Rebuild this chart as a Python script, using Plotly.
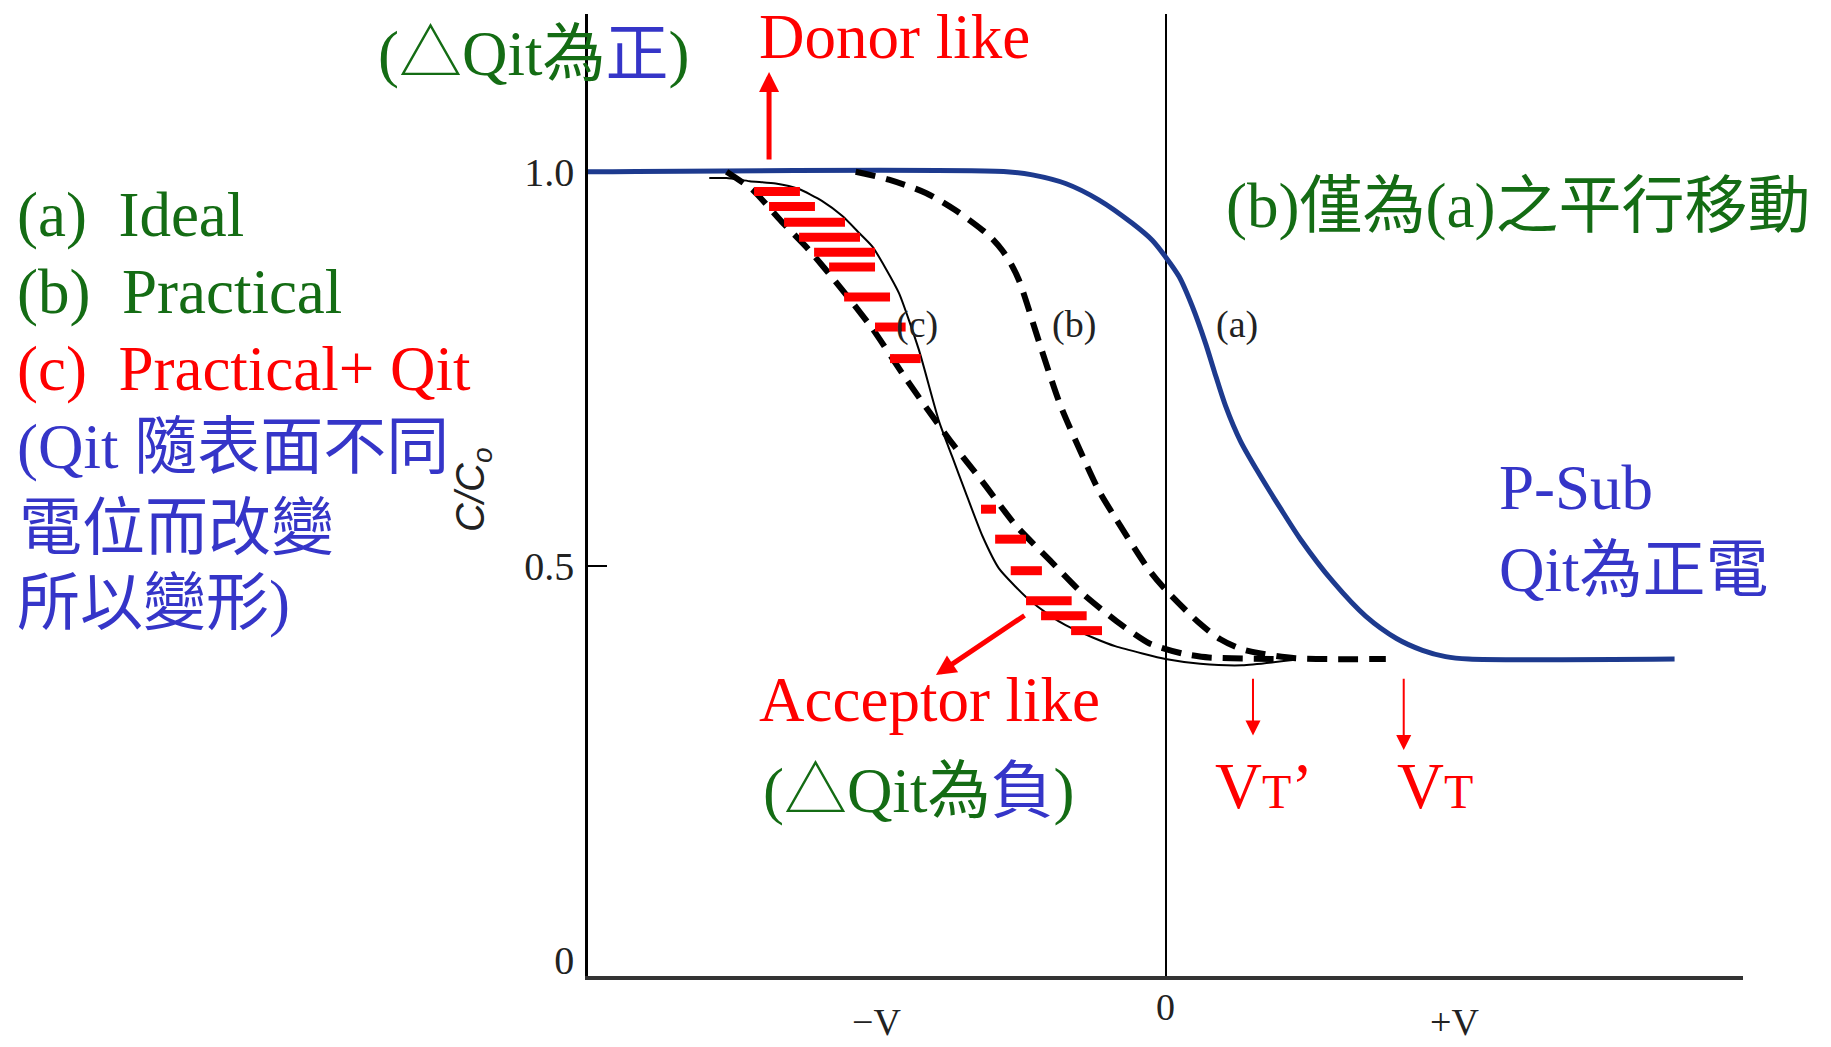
import plotly.graph_objects as go

# ---- C-V curves: gate voltage in units of V, capacitance as C/Co ----
ideal_v = [-2.0, -0.55, -0.461, -0.346, -0.23, -0.115, -0.046, 0.0, 0.047, 0.093, 0.139,
           0.168, 0.208, 0.26, 0.319, 0.40, 0.469, 0.58, 0.694, 0.80, 0.89, 0.97, 1.05, 1.763]
ideal_c = [1.0, 1.0, 0.996, 0.985, 0.964, 0.9345, 0.913, 0.892, 0.867, 0.829, 0.782,
           0.748, 0.703, 0.658, 0.620, 0.572, 0.533, 0.480, 0.436, 0.408, 0.393, 0.385,
           0.382, 0.382]

practical_v = [-1.073, -0.958, -0.83, -0.727, -0.634, -0.60, -0.565, -0.535, -0.507, -0.48,
               -0.45, -0.403, -0.363, -0.288, -0.23, -0.172, -0.057, 0.0, 0.116, 0.19,
               0.26, 0.33, 0.45, 0.763]
practical_c = [1.0, 0.99, 0.973, 0.951, 0.926, 0.915, 0.900, 0.883, 0.862, 0.833,
               0.798, 0.745, 0.703, 0.640, 0.595, 0.560, 0.495, 0.470, 0.428, 0.407,
               0.395, 0.389, 0.383, 0.382]

stretched_v = [-1.52, -1.43, -1.33, -1.235, -1.13, -1.015, -0.90, -0.75, -0.634, -0.52,
               -0.40, -0.29, -0.17, -0.057, 0.058, 0.15, 0.40]
stretched_c = [1.0, 0.977, 0.937, 0.901, 0.855, 0.801, 0.738, 0.661, 0.607, 0.552,
               0.507, 0.466, 0.43, 0.402, 0.389, 0.384, 0.382]

qit_v = [-1.58, -1.52, -1.44, -1.35, -1.27, -1.19, -1.12, -1.06, -1.015, -0.97, -0.923,
         -0.854, -0.784, -0.738, -0.692, -0.634, -0.577, -0.52, -0.484, -0.40, -0.346,
         -0.25, -0.172, -0.08, 0.0, 0.12, 0.265, 0.448]
qit_c = [0.992, 0.992, 0.988, 0.985, 0.978, 0.963, 0.944, 0.922, 0.905, 0.878, 0.846,
         0.774, 0.683, 0.638, 0.593, 0.538, 0.497, 0.474, 0.461, 0.437, 0.425,
         0.409, 0.398, 0.389, 0.382, 0.376, 0.374, 0.381]

# interface-trap hatching between the curves: start V, end V, C/Co level
trap_v0 = [-1.425, -1.373, -1.321, -1.269, -1.217, -1.165, -1.113, -1.006, -0.954,
           -0.639, -0.590, -0.536, -0.483, -0.431, -0.327]
trap_v1 = [-1.266, -1.214, -1.110, -1.058, -1.006, -1.006, -0.954, -0.900, -0.848,
           -0.587, -0.483, -0.428, -0.325, -0.273, -0.220]
trap_c = [0.975, 0.956, 0.936, 0.917, 0.898, 0.879, 0.841, 0.803, 0.763,
          0.572, 0.534, 0.494, 0.456, 0.437, 0.418]

y_tick_vals = [0, 0.5, 1.0]
y_tick_text = ["0", "0.5", "1.0"]
x_label_vals = [-1, 0, 1]
x_label_text = ["\u2212V", "0", "+V"]
curve_labels = ["(c)", "(b)", "(a)"]
curve_label_v = [-0.861, -0.317, 0.248]

SERIF = "Liberation Serif, Noto Sans CJK TC, serif"
GREEN = "#146c14"
RED = "#ff0000"
BLUE_TXT = "#3535c8"
NAVY = "#1d3a8e"
BIG = 63
DASH = "20px,11px"

fig = go.Figure()

fig.add_trace(go.Scatter(x=ideal_v, y=ideal_c, mode="lines",
                         line=dict(color=NAVY, width=5, shape="spline", smoothing=0.8)))
fig.add_trace(go.Scatter(x=practical_v, y=practical_c, mode="lines",
                         line=dict(color="black", width=6, dash=DASH,
                                   shape="spline", smoothing=0.8)))
fig.add_trace(go.Scatter(x=stretched_v, y=stretched_c, mode="lines",
                         line=dict(color="black", width=6, dash=DASH,
                                   shape="spline", smoothing=0.6)))
fig.add_trace(go.Scatter(x=qit_v, y=qit_c, mode="lines",
                         line=dict(color="black", width=2, shape="spline", smoothing=0.6)))

bar_x, bar_y = [], []
for v0, v1, c in zip(trap_v0, trap_v1, trap_c):
    bar_x += [v0, v1, None]
    bar_y += [c, c, None]
fig.add_trace(go.Scatter(x=bar_x, y=bar_y, mode="lines",
                         line=dict(color=RED, width=9)))

annotations = []


def text(t, x, y, size=BIG, color="black", xref="paper", yref="paper",
         xanchor="left", family=SERIF, angle=0):
    annotations.append(dict(text=t, x=x, y=y, xref=xref, yref=yref,
                            xanchor=xanchor, yanchor="middle", showarrow=False,
                            textangle=angle,
                            font=dict(family=family, size=size, color=color)))


def arrow(x, y, ax, ay, width, size):
    annotations.append(dict(text="", x=x, y=y, ax=ax, ay=ay, xref="x", yref="y",
                            axref="x", ayref="y", showarrow=True, arrowhead=2,
                            arrowsize=size, arrowwidth=width, arrowcolor=RED))


# legend block on the left
text("(a)\u00a0 Ideal", -0.4961, 0.7908, color=GREEN)
text("(b)\u00a0 Practical", -0.4961, 0.7108, color=GREEN)
text("(c)\u00a0 Practical+ Qit", -0.4961, 0.6307, color=RED)
text("(Qit 隨表面不同", -0.4961, 0.5497, color=BLUE_TXT)
text("電位而改變", -0.4944, 0.4654, color=BLUE_TXT)
text("所以變形)", -0.4961, 0.3881, color=BLUE_TXT)

# notes around the curves
text("(△Qit為<span style='color:%s'>正</span>)" % BLUE_TXT, -0.1835, 0.958, color=GREEN)
text("Donor like", 0.1463, 0.9761, color=RED)
text("Acceptor like", 0.1463, 0.2869, color=RED)
text("(△Qit為<span style='color:%s'>負</span>)" % BLUE_TXT, 0.1498, 0.1923, color=GREEN)
text("(b)僅為(a)之平行移動", 0.5506, 0.8004, color=GREEN)
text("P-Sub", 0.787, 0.5073, color=BLUE_TXT)
text("Qit為正電", 0.787, 0.4220, color=BLUE_TXT)
text("V<span style='font-size:48px'>T</span>\u2019", 0.5411, 0.197, size=65, color=RED)
text("V<span style='font-size:48px'>T</span>", 0.6987, 0.197, size=65, color=RED)

# curve tags
for lab, v in zip(curve_labels, curve_label_v):
    text(lab, v, 0.806, size=38, color="#222", xref="x", yref="y", xanchor="center")

# voltage labels under the axis
x_label_y = [-0.0478, -0.0322, -0.0478]
for lab, v, yy in zip(x_label_text, x_label_vals, x_label_y):
    text(lab, v, yy, size=38, color="#222", xref="x", yref="paper", xanchor="center")

# y-axis title
text("<i>C/C<sub>o</sub></i>", -0.0996, 0.5052, size=40, color="#222",
     family="Liberation Sans, Arial, sans-serif", xanchor="center", angle=-90)

# arrows
arrow(-1.373, 1.1265, -1.373, 1.0136, 5, 0.8)
arrow(-0.795, 0.3617, -0.483, 0.4385, 5, 0.8)
arrow(0.303, 0.285, 0.303, 0.359, 2, 1.5)
arrow(0.825, 0.2666, 0.825, 0.359, 2, 1.5)

fig.update_layout(
    width=1831, height=1047,
    margin=dict(l=588, r=88, t=14, b=71),
    paper_bgcolor="white", plot_bgcolor="white",
    showlegend=False,
    annotations=annotations,
    xaxis=dict(range=[-2, 2], showline=True, linewidth=3.5, linecolor="#333",
               showticklabels=False, ticks="", showgrid=False,
               zeroline=True, zerolinecolor="black", zerolinewidth=2),
    yaxis=dict(range=[-0.02, 1.2], showline=True, linewidth=2.5, linecolor="black",
               tickmode="array", tickvals=y_tick_vals, ticktext=y_tick_text,
               ticks="", ticklabelstandoff=3, showgrid=False, zeroline=False,
               tickfont=dict(family=SERIF, size=40, color="#222"),
               minor=dict(tickmode="array", tickvals=[0.5], ticks="inside",
                          ticklen=19, tickwidth=2, tickcolor="black", showgrid=False)),
)

fig.write_html("out.html")
